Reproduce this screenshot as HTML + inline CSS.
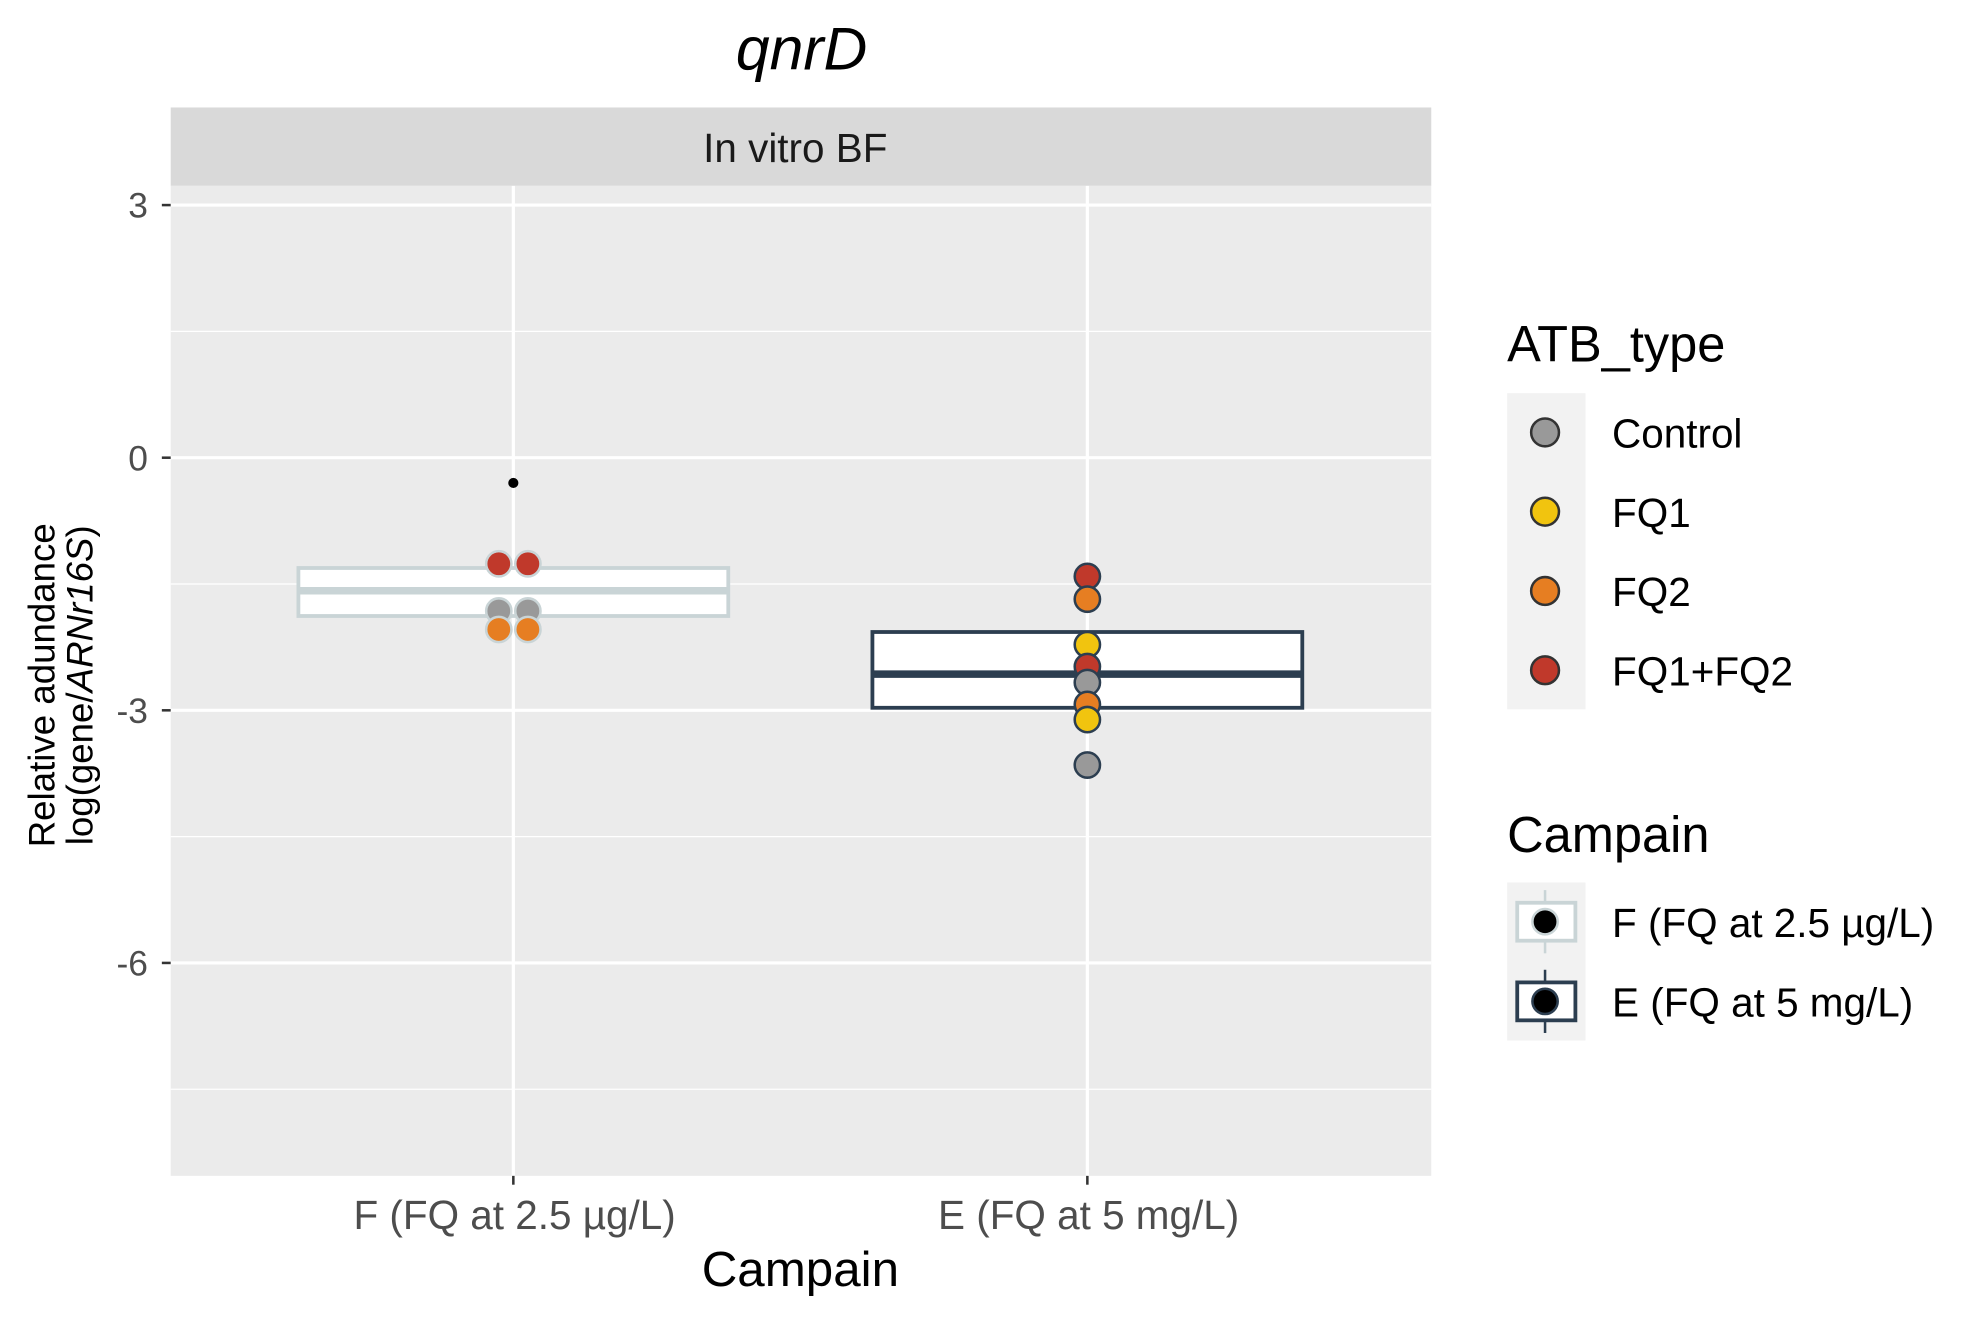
<!DOCTYPE html>
<html><head><meta charset="utf-8"><style>
html,body{margin:0;padding:0;background:#fff;}
svg{display:block;font-family:"Liberation Sans",Arial,sans-serif;}
</style></head><body>
<svg id="chart" width="1980" height="1321" viewBox="0 0 1566 1044.8" xmlns="http://www.w3.org/2000/svg">
<text x="634" y="55" font-size="48" font-style="italic" text-anchor="middle" fill="#000">qnrD</text>
<rect x="135" y="85" width="997" height="62" fill="#d9d9d9"/>
<text x="629" y="128" font-size="32" text-anchor="middle" fill="#1a1a1a">In vitro BF</text>
<rect x="135" y="147" width="997" height="783" fill="#ebebeb"/>
<g id="grid"></g>
<g id="boxes"></g>
<g id="points"></g>
<g id="axes"></g>
<text x="633" y="1017" font-size="39" text-anchor="middle" fill="#000">Campain</text>
<g transform="translate(43,542) rotate(-90)">
<text x="0" y="0" font-size="29" text-anchor="middle" fill="#000">Relative adundance</text>
<text x="0" y="30" font-size="29" text-anchor="middle" fill="#000">log(gene/<tspan font-style="italic">ARNr16S</tspan>)</text>
</g>
<g>
<text x="1192" y="286" font-size="40" fill="#000">ATB_type</text>
<rect x="1192" y="311" width="62" height="250" fill="#f2f2f2"/>
<g id="legend1"></g>
</g>
<g>
<text x="1192" y="674" font-size="40" fill="#000">Campain</text>
<rect x="1192" y="698" width="62" height="125" fill="#f2f2f2"/>
<g id="legend2"></g>
</g>
</svg>
<script>
const categories = ["F (FQ at 2.5 µg/L)", "E (FQ at 5 mg/L)"];
const yTicks = [3, 0, -3, -6];
const boxQ1 = [-1.88, -2.97];
const boxMedian = [-1.58, -2.57];
const boxQ3 = [-1.31, -2.07];
const outlierCat = [0];
const outlierVal = [-0.30];
const atbTypes = ["Control", "FQ1", "FQ2", "FQ1+FQ2"];
const pointCat = [0,0,0,0,0,0, 1,1,1,1,1,1,1,1];
const pointType = [3,3,0,0,2,2, 3,2,1,3,0,2,1,0];
const pointVal = [-1.26,-1.26,-1.82,-1.82,-2.04,-2.04, -1.41,-1.68,-2.22,-2.48,-2.67,-2.93,-3.11,-3.65];
const pointDodge = [-1,1,-1,1,-1,1, 0,0,0,0,0,0,0,0];

const NS="http://www.w3.org/2000/svg";
const typeColors=["#999999","#f1c40f","#e67e22","#c0392b"];
const campColors=["#c9d4d6","#2c3e50"];
const y=v=>362-v*66.6;
const x=i=>406+i*454;
function mk(tag,attrs,parent){const e=document.createElementNS(NS,tag);for(const k in attrs)e.setAttribute(k,attrs[k]);document.getElementById(parent).appendChild(e);return e;}

[4.5,1.5,-1.5,-4.5,-7.5].forEach(v=>{if(y(v)>147&&y(v)<930){const l=mk('line',{x1:135,x2:1132,y1:y(v),y2:y(v),stroke:'#fff','stroke-width':1},'grid');

}});
yTicks.forEach(v=>{const l=mk('line',{x1:135,x2:1132,y1:y(v),y2:y(v),stroke:'#fff','stroke-width':2.5},'grid');


const t=mk('line',{x1:128,x2:135,y1:y(v),y2:y(v),stroke:'#333','stroke-width':2},'axes');


const tx=mk('text',{x:117,y:y(v)+10,'font-size':28,'text-anchor':'end',fill:'#4d4d4d'},'axes');tx.textContent=v;

});
categories.forEach((c,i)=>{const l=mk('line',{x1:x(i),x2:x(i),y1:147,y2:930,stroke:'#fff','stroke-width':2.5},'grid');


const t=mk('line',{x1:x(i),x2:x(i),y1:930,y2:937,stroke:'#333','stroke-width':2},'axes');


const tx=mk('text',{x:x(i)+1,y:972,'font-size':32,'text-anchor':'middle',fill:'#4d4d4d'},'axes');tx.textContent=c;

});
categories.forEach((c,i)=>{const col=campColors[i];
const r=mk('rect',{x:x(i)-170,y:y(boxQ3[i]),width:340,height:y(boxQ1[i])-y(boxQ3[i]),fill:'#fff',stroke:col,'stroke-width':3},'boxes');


const m=mk('line',{x1:x(i)-170,x2:x(i)+170,y1:y(boxMedian[i]),y2:y(boxMedian[i]),stroke:col,'stroke-width':6},'boxes');

});
outlierCat.forEach((c,k)=>{const o=mk('circle',{cx:x(c),cy:y(outlierVal[k]),r:4,fill:'#000'},'boxes');

});
pointVal.forEach((v,k)=>{const c=pointCat[k];const p=mk('circle',{cx:x(c)+pointDodge[k]*11.5,cy:y(v),r:10,fill:typeColors[pointType[k]],stroke:campColors[c],'stroke-width':2},'points');

});
atbTypes.forEach((t,k)=>{const yy=342+k*62.7;const c=mk('circle',{cx:1222,cy:yy,r:11,fill:typeColors[k],stroke:'#333','stroke-width':2},'legend1');


const tx=mk('text',{x:1275,y:yy+12,'font-size':32,fill:'#000'},'legend1');tx.textContent=t;

});
categories.forEach((t,k)=>{const yy=729+k*63;const col=campColors[k];
const l=mk('line',{x1:1222,x2:1222,y1:yy-25,y2:yy+25,stroke:col,'stroke-width':2},'legend2');


const r=mk('rect',{x:1200,y:yy-15,width:46,height:30,fill:'#fff',stroke:col,'stroke-width':3},'legend2');


const c=mk('circle',{cx:1222,cy:yy,r:10,fill:'#000',stroke:col,'stroke-width':2},'legend2');


const tx=mk('text',{x:1275,y:yy+12,'font-size':32,fill:'#000'},'legend2');tx.textContent=t;

});
</script>
</body></html>
